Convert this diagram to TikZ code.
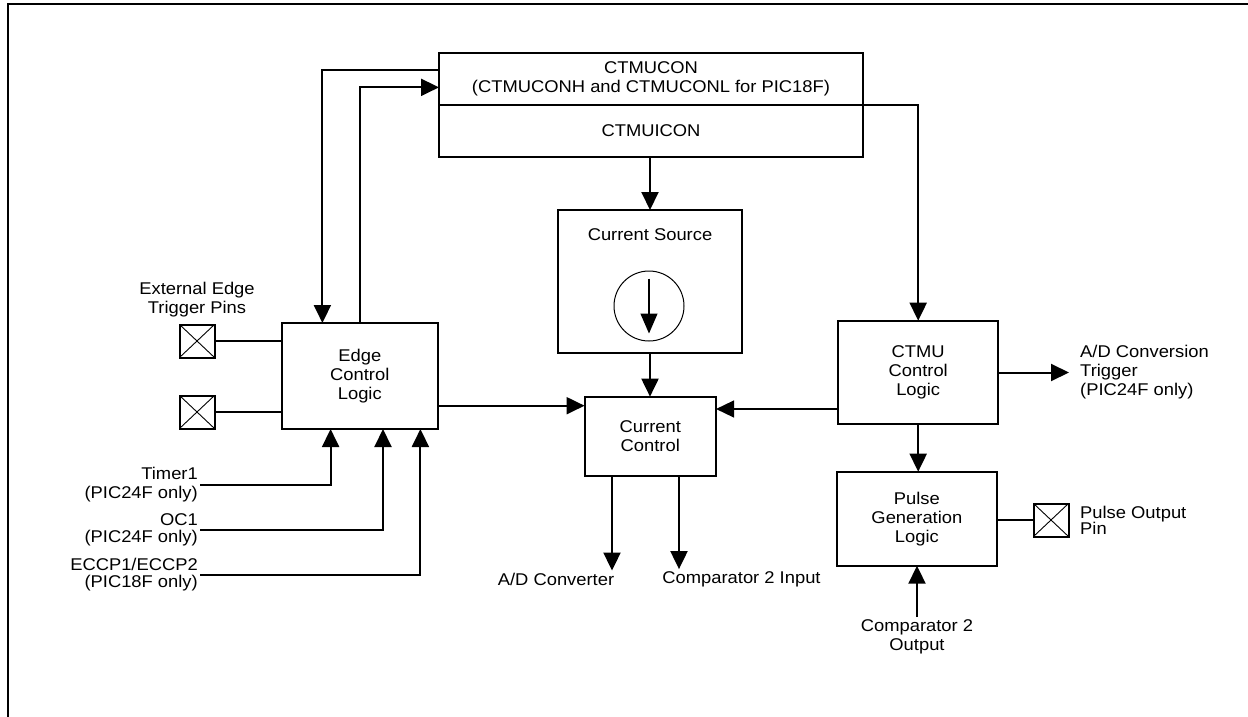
\documentclass[tikz,border=0pt]{standalone}
\usepackage{fontspec}
\setmainfont{Liberation Sans}[FakeStretch=1.08]
\usepackage{tikz}
\usetikzlibrary{arrows.meta, positioning}

\begin{document}
\begin{tikzpicture}[x=1pt, y=-1pt,
  font=\fontsize{17}{19}\selectfont,
  blk/.style={draw, line width=2pt, align=center, inner sep=0pt, outer sep=0pt},
  pin/.style={draw, line width=2pt, minimum width=35pt, minimum height=33pt, inner sep=0pt, outer sep=0pt,
    path picture={\draw[line width=0.9pt] (path picture bounding box.south west) -- (path picture bounding box.north east)
      (path picture bounding box.north west) -- (path picture bounding box.south east);}},
  lbl/.style={align=center, inner sep=2pt},
  wire/.style={line width=2pt},
  arr/.style={wire, -{Triangle[length=18pt, width=17pt]}}]
\useasboundingbox (0,0) rectangle (1248,717);
% frame
\draw[line width=2.4pt] (8,717) -- (8,4) -- (1248,4);

% registers
\node[blk, minimum width=424pt, minimum height=52.3pt] (regtop) at (651,78.85) {CTMUCON\\(CTMUCONH and CTMUCONL for PIC18F)};
\node[blk, minimum width=424pt, minimum height=51.7pt, below=0pt of regtop] (regbot) {CTMUICON};

% current source
\node[blk, minimum width=184pt, minimum height=143pt] (src) at (650,281.5) {};
\node[lbl] (srctxt) at (650,235) {Current Source};
\node[draw, circle, line width=1pt, minimum size=70pt, inner sep=0pt] (isrc) at (649,306) {};
\draw[line width=1.3pt, -{Triangle[length=20pt, width=17pt]}] ([yshift=-8pt]isrc.north) -- ([yshift=8pt]isrc.south);

% blocks
\node[blk, minimum width=131.5pt, minimum height=79.3pt] (cc) at (650.3,436.3) {Current\\Control};
\node[blk, minimum width=156.4pt, minimum height=106pt] (edge) at (359.8,376) {Edge\\Control\\Logic};
\node[blk, minimum width=159.6pt, minimum height=103.6pt] (ctmu) at (918.2,372.5) {CTMU\\Control\\Logic};
\node[blk, minimum width=159.7pt, minimum height=94pt] (pulse) at (916.9,518.7) {Pulse\\Generation\\Logic};

% pins
\node[pin] (pinA) at (197,341) {};
\node[pin] (pinB) at (197,412) {};
\node[pin] (pinC) at (1051,520) {};

% labels
\node[lbl] (exttxt) at (197,300) {External Edge\\Trigger Pins};
\node[lbl, align=right, anchor=east] (tmr) at (200,485) {Timer1\\(PIC24F only)};
\node[lbl, align=right, anchor=east, font=\fontsize{17}{17}\selectfont] (oc) at (200,530) {OC1\\(PIC24F only)};
\node[lbl, align=right, anchor=east, font=\fontsize{17}{17}\selectfont] (eccp) at (200,575) {ECCP1/ECCP2\\(PIC18F only)};
\node[lbl, align=left, anchor=west] (adtxt) at (1078,372) {A/D Conversion\\Trigger\\(PIC24F only)};
\node[lbl, align=left, anchor=west, font=\fontsize{17}{16}\selectfont] (pintxt) at (1078,520) {Pulse Output\\Pin};
\node[lbl] (adc) at (556,579) {A/D Converter};
\node[lbl] (cmpin) at (741.5,579) {Comparator 2 Input};
\node[lbl] (cmpout) at (917,636.5) {Comparator 2\\Output};

% connectors
\coordinate (ccL) at ([yshift=30.6pt]cc.west);
\coordinate (ccR) at ([yshift=27.3pt]cc.east);
\coordinate (adend) at ([xshift=-9pt]adtxt.west);
\coordinate (adcsrc) at ([xshift=-38.3pt]cc.south);
\coordinate (cmpsrc) at ([xshift=28.7pt]cc.south);

\draw[arr] ([yshift=8.5pt]regtop.west) -| ([xshift=-37.4pt]edge.north);
\draw[arr] (edge.north) |- ([yshift=-8.5pt]regtop.west);
\draw[arr] (regtop.south east) -| (ctmu.north);
\draw[arr] (regbot.south -| src.north) -- (src.north);
\draw[arr] (src.south) -- (src.south |- cc.north);
\draw[arr] (edge.east |- ccL) -- (ccL);
\draw[arr, line width=1.4pt] (ctmu.west |- ccR) -- (ccR);
\draw[arr] (ctmu.east) -- (ctmu.east -| adend);
\draw[arr] (ctmu.south) -- (ctmu.south |- pulse.north);
\draw[wire] (pulse.east |- pinC) -- (pinC.west);
\draw[arr] (cmpout.north) -- (cmpout.north |- pulse.south);
\draw[arr] (adcsrc) -- (adcsrc |- adc.north);
\draw[arr] (cmpsrc) -- (cmpsrc |- cmpin.north);
\draw[wire] (pinA.east) -- (pinA.east -| edge.west);
\draw[wire] (pinB.east) -- (pinB.east -| edge.west);
\draw[arr] (tmr.east) -| ([xshift=-29.2pt]edge.south);
\draw[arr] (oc.east) -| ([xshift=23.2pt]edge.south);
\draw[arr] (eccp.east) -| ([xshift=60.6pt]edge.south);
\end{tikzpicture}
\end{document}
